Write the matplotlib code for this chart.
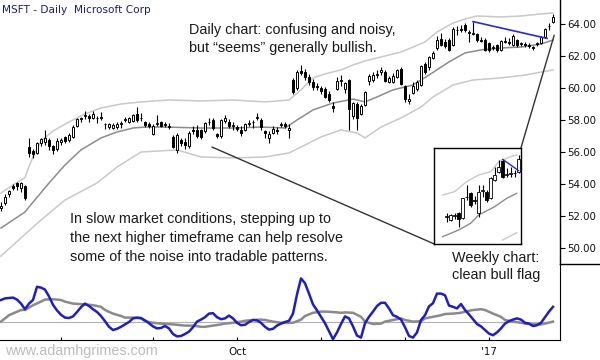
import numpy as np
import matplotlib
matplotlib.use('Agg')
import matplotlib.pyplot as plt
from matplotlib.lines import Line2D
from matplotlib.patches import ConnectionPatch

# ---------------- daily OHLC (MSFT, Jul 11 2016 - Jan 26 2017) ----------------
opens = [52.50, 52.80, 53.40, 53.85, 54.05, 53.75, 53.85, 56.30, 56.05, 55.95,
         56.55, 56.65, 56.75, 56.35, 56.20, 56.60, 56.95, 56.75, 56.95, 57.65,
         58.05, 58.25, 58.25, 58.15, 58.15, 58.15, 57.75, 57.55, 57.50, 57.55,
         57.75, 58.00, 57.90, 57.95, 58.40, 58.10, 57.85, 57.75, 57.15, 57.75,
         57.85, 57.70, 57.65, 56.95, 56.15, 56.75, 56.60, 56.40, 57.40, 57.40,
         57.35, 57.30, 57.90, 58.00, 57.10, 57.00, 57.95, 57.90, 57.60, 57.55,
         57.35, 57.35, 57.75, 57.90, 58.10, 58.00, 57.30, 56.85, 57.20, 57.40,
         57.70, 57.75, 57.40, 60.50, 60.00, 61.05, 61.00, 60.70, 60.40, 60.15,
         60.00, 59.95, 59.65, 58.85, 59.95, 60.45, 59.95, 60.50, 58.25, 59.00,
         58.40, 58.95, 60.45, 60.50, 60.80, 61.00, 61.00, 60.40, 60.40, 60.70,
         61.20, 60.15, 59.20, 59.70, 59.95, 60.20, 61.50, 61.30, 61.85, 62.50,
         63.05, 62.85, 63.00, 62.70, 63.60, 63.70, 63.95, 63.50, 63.40, 63.40,
         63.00, 63.00, 62.80, 62.50, 62.70, 62.40, 62.90, 62.85, 62.70, 63.00,
         62.75, 62.75, 62.70, 62.55, 62.75, 62.80, 63.20, 63.85, 64.15]
highs = [52.90, 53.40, 53.65, 54.00, 54.10, 54.15, 53.95, 56.90, 56.20, 56.65,
         56.90, 57.35, 56.85, 56.45, 56.85, 56.90, 57.00, 57.20, 57.70, 58.15,
         58.20, 58.55, 58.40, 58.55, 58.25, 58.50, 57.80, 57.80, 57.80, 57.85,
         57.95, 58.20, 58.20, 58.40, 58.80, 58.45, 57.95, 57.85, 57.75, 58.30,
         57.95, 57.90, 57.80, 57.05, 57.20, 56.90, 56.85, 57.30, 57.60, 57.70,
         57.45, 57.85, 58.10, 58.10, 57.20, 58.05, 58.30, 58.05, 57.90, 57.70,
         57.60, 57.80, 58.00, 58.00, 58.45, 58.10, 57.40, 57.30, 57.60, 57.55,
         57.90, 57.90, 57.75, 60.60, 61.15, 61.45, 61.20, 60.90, 60.55, 60.30,
         60.10, 60.05, 59.80, 59.15, 60.70, 60.80, 60.40, 60.55, 59.15, 59.10,
         59.00, 59.80, 60.90, 61.00, 61.10, 61.30, 61.10, 60.75, 60.95, 61.20,
         61.30, 60.20, 59.60, 60.40, 60.50, 61.45, 61.60, 62.00, 62.30, 63.25,
         63.45, 63.05, 63.10, 63.80, 63.85, 63.95, 64.04, 63.60, 64.15, 63.45,
         63.20, 63.10, 62.85, 62.70, 62.75, 63.00, 63.20, 63.10, 63.35, 63.05,
         62.90, 62.90, 62.80, 62.60, 62.90, 63.25, 63.75, 64.05, 64.60]
lows = [52.30, 52.70, 53.20, 53.60, 53.60, 53.50, 53.00, 55.70, 55.60, 55.85,
        56.35, 56.45, 56.10, 55.85, 56.05, 56.45, 56.55, 56.60, 56.85, 57.55,
        57.85, 58.05, 57.90, 58.05, 57.80, 58.00, 57.45, 57.45, 57.45, 57.45,
        57.50, 57.90, 57.80, 57.90, 57.85, 57.95, 57.55, 57.50, 57.05, 57.60,
        57.55, 57.55, 57.45, 56.25, 55.95, 56.35, 56.20, 56.25, 57.10, 56.90,
        56.80, 57.20, 57.70, 57.40, 56.85, 56.90, 57.80, 57.50, 57.40, 57.30,
        57.00, 57.30, 57.60, 57.50, 58.00, 57.40, 56.90, 56.55, 57.10, 57.15,
        57.55, 57.50, 56.90, 59.60, 59.90, 60.80, 60.50, 60.20, 59.90, 59.90,
        59.60, 59.35, 59.10, 58.50, 59.85, 60.10, 59.70, 57.40, 58.05, 57.35,
        58.30, 58.90, 60.20, 60.40, 60.60, 60.80, 60.35, 60.30, 60.30, 60.60,
        60.20, 59.10, 59.00, 59.60, 59.80, 60.10, 60.90, 61.10, 61.80, 62.40,
        62.60, 62.50, 62.30, 62.60, 63.30, 63.50, 63.50, 62.90, 63.30, 62.90,
        62.85, 62.30, 62.25, 62.35, 62.25, 62.30, 62.80, 62.70, 62.60, 62.55,
        62.65, 62.55, 62.50, 62.35, 62.60, 62.75, 63.15, 63.60, 64.05]
closes = [52.60, 53.20, 53.55, 53.75, 53.85, 54.05, 53.10, 55.95, 55.85, 56.55,
          56.80, 56.90, 56.35, 56.10, 56.70, 56.75, 56.70, 57.05, 57.55, 58.05,
          58.10, 58.30, 58.15, 58.40, 58.10, 58.20, 57.72, 57.72, 57.70, 57.75,
          57.80, 58.05, 58.15, 58.30, 58.00, 58.15, 57.70, 57.65, 57.65, 57.80,
          57.65, 57.75, 57.55, 56.30, 57.05, 56.55, 56.45, 57.20, 57.30, 57.00,
          56.95, 57.80, 57.85, 57.50, 57.00, 58.00, 58.10, 57.60, 57.70, 57.45,
          57.20, 57.75, 57.80, 57.85, 58.20, 57.55, 57.20, 57.10, 57.45, 57.30,
          57.75, 57.60, 57.50, 59.77, 61.00, 60.95, 60.70, 60.35, 60.05, 60.05,
          59.80, 59.45, 59.25, 58.75, 60.45, 60.50, 60.30, 58.70, 59.05, 58.15,
          58.90, 59.75, 60.75, 60.80, 60.90, 61.10, 60.45, 60.65, 60.75, 61.10,
          60.25, 59.30, 59.30, 60.15, 60.40, 61.40, 61.00, 61.95, 62.20, 63.00,
          62.70, 62.60, 62.40, 63.70, 63.65, 63.60, 63.65, 63.45, 63.45, 63.00,
          62.95, 62.40, 62.40, 62.55, 62.35, 62.95, 62.95, 62.80, 63.25, 62.70,
          62.80, 62.70, 62.65, 62.50, 62.80, 63.20, 63.70, 63.90, 64.45]

# Keltner-style channel (bar index, price)
upper_idx = [0, 3, 6, 7, 8, 10, 13, 17, 21, 25, 30, 35, 42, 50, 58, 66, 72, 75, 78, 81,
             85, 88, 91, 95, 100, 103, 106, 109, 113, 116, 119, 125, 130, 135, 138]
upper_val = [53.44, 53.94, 54.40, 55.10, 55.69, 56.69, 57.31, 57.88, 58.38, 58.75, 59.00,
             59.13, 59.25, 59.19, 59.25, 59.13, 59.25, 59.88, 60.63, 60.88, 61.13, 61.44,
             61.69, 61.94, 62.25, 62.56, 62.88, 63.50, 64.06, 64.31, 64.50, 64.44, 64.50,
             64.63, 64.69]
mid_idx = [0, 3, 6, 7, 12, 16, 20, 25, 29, 33, 36, 41, 50, 58, 65, 71, 74, 78, 83, 88,
           91, 94, 98, 103, 107, 112, 116, 120, 125, 130, 135, 138]
mid_val = [51.25, 51.75, 52.25, 52.56, 54.06, 55.19, 56.13, 56.88, 57.25, 57.50, 57.56,
           57.56, 57.50, 57.50, 57.56, 57.50, 58.00, 58.63, 59.06, 59.31, 59.13, 59.44,
           59.88, 60.19, 60.81, 61.63, 62.19, 62.38, 62.50, 62.56, 62.75, 63.00]
low_idx = [0, 5, 10, 16, 24, 29, 35, 44, 50, 58, 66, 72, 75, 80, 85, 89, 91, 95, 100,
           105, 108, 113, 118, 125, 131, 138]
low_val = [49.50, 50.63, 51.75, 53.00, 54.06, 55.06, 56.00, 56.13, 55.69, 55.63, 55.69,
           55.94, 56.31, 56.94, 57.38, 57.19, 56.88, 57.56, 58.13, 58.81, 59.44, 60.19,
           60.50, 60.63, 60.81, 61.13]

# flag trendline (bar index, price)
flag_idx = [118, 136.5]
flag_val = [64.15, 63.10]

# oscillator (lower panel)
fast_osc = [0.56, 0.60, 0.61, 0.62, 0.57, 0.47, 0.33, 0.47, 0.56, 0.89,
            0.87, 0.82, 0.65, 0.44, 0.30, 0.19, 0.12, 0.11, 0.15, 0.26,
            0.38, 0.47, 0.41, 0.33, 0.26, 0.16, 0.03, -0.11, -0.19, -0.16,
            -0.11, -0.05, 0.01, 0.10, 0.12, 0.11, 0.05, -0.02, -0.10, -0.15,
            -0.14, -0.09, -0.15, -0.29, -0.35, -0.34, -0.29, -0.23, -0.12, 0.02,
            0.07, 0.13, 0.22, 0.23, 0.13, 0.08, 0.10, 0.17, 0.10, -0.01,
            -0.07, -0.06, 0.01, 0.06, 0.05, -0.01, -0.11, -0.18, -0.16, -0.08,
            -0.03, 0.01, 0.04, 0.22, 0.70, 1.10, 0.98, 0.72, 0.45, 0.30,
            0.14, -0.02, -0.22, -0.42, -0.25, -0.04, 0.15, 0.10, -0.10, -0.33,
            -0.38, -0.02, 0.14, 0.27, 0.41, 0.49, 0.49, 0.35, 0.18, 0.14,
            0.07, -0.12, -0.34, -0.38, -0.25, 0.06, 0.18, 0.40, 0.48, 0.72,
            0.72, 0.68, 0.42, 0.39, 0.35, 0.46, 0.31, 0.20, 0.08, -0.04,
            -0.10, -0.19, -0.28, -0.32, -0.25, -0.15, -0.03, 0.03, 0.07, 0.10,
            0.07, -0.01, -0.03, -0.09, -0.07, -0.01, 0.13, 0.27, 0.39]
slow_idx = [0, 2, 5, 6, 8, 10, 11, 13, 15, 16, 18, 21, 23, 25, 26, 28, 30, 31, 33, 35,
            36, 38, 40, 41, 43, 45, 46, 48, 50, 51, 53, 55, 56, 58, 60, 61, 63, 65, 66,
            68, 70, 71, 73, 75, 76, 78, 80, 81, 83, 85, 86, 88, 90, 91, 93, 95, 96, 98,
            100, 101, 103, 105, 106, 108, 110, 111, 113, 115, 116, 118, 120, 121, 123,
            125, 126, 128, 130, 131, 133, 135, 136, 138]
slow_val = [0.02, 0.18, 0.31, 0.31, 0.43, 0.52, 0.57, 0.58, 0.56, 0.52, 0.47, 0.45, 0.43,
            0.39, 0.31, 0.22, 0.16, 0.12, 0.12, 0.10, 0.03, -0.01, -0.03, -0.04, -0.05,
            -0.07, -0.08, -0.08, -0.11, -0.11, -0.08, -0.05, -0.03, -0.01, 0.02, 0.04,
            0.06, 0.07, 0.06, 0.02, -0.01, -0.01, -0.01, 0.07, 0.16, 0.24, 0.27, 0.27,
            0.26, 0.24, 0.25, 0.24, 0.14, 0.02, -0.04, -0.03, 0.02, 0.06, 0.10, 0.06,
            0.02, 0.03, 0.10, 0.14, 0.18, 0.21, 0.22, 0.24, 0.27, 0.31, 0.33, 0.31, 0.22,
            0.14, 0.06, 0.02, -0.01, -0.03, -0.05, -0.05, -0.03, 0.02]

month_tick_idx = [15, 38, 59, 80, 101, 122]
month_tick_lbl = ['', '', 'Oct', '', '', "'17"]
price_ticks = [50, 52, 54, 56, 58, 60, 62, 64]

# ---------------- weekly inset ----------------
wk_open = [57.55, 57.17, 57.63, 57.94, 57.36, 59.77, 60.23, 59.47, 57.94, 60.54,
           60.43, 59.66, 61.77, 62.73, 64.00, 62.34, 62.46, 62.53, 62.73]
wk_high = [58.01, 57.86, 58.01, 58.09, 59.74, 61.19, 60.43, 59.93, 61.19, 61.19,
           60.62, 62.07, 63.30, 64.07, 64.14, 63.11, 63.30, 62.92, 64.64]
wk_low = [56.98, 57.09, 57.32, 56.40, 57.25, 59.47, 58.63, 59.01, 57.48, 59.85,
          59.28, 59.55, 61.69, 62.53, 62.04, 62.07, 62.15, 62.07, 62.61]
wk_close = [57.63, 57.74, 57.71, 57.32, 59.66, 59.85, 58.89, 59.39, 60.43, 60.62,
            59.47, 61.96, 62.34, 63.30, 62.15, 62.46, 62.53, 62.61, 64.14]
wk_up_idx = [-1, 2, 5, 8, 11, 13, 16, 17.5]
wk_up_val = [60.04, 60.43, 61.58, 62.34, 62.73, 63.87, 64.45, 64.64]
wk_mid_idx = [-1, 3, 6, 8, 12, 15, 17.5]
wk_mid_val = [55.25, 56.02, 56.79, 57.74, 58.70, 59.66, 60.23]
wk_low_idx = [14, 17.5]
wk_low_val = [54.87, 55.71]
wk_flag_idx = [14, 18]
wk_flag_val = [64.14, 62.84]

# ---------------- drawing ----------------
W, H = 600, 360
fig = plt.figure(figsize=(6, 3.6), dpi=100)
fig.patch.set_facecolor('white')

ax = fig.add_axes([0, 96 / H, 560 / W, 264 / H])
ax2 = fig.add_axes([0, 20 / H, 560 / W, 76 / H])

bars = np.arange(len(closes))
o = np.array(opens); hi = np.array(highs); lo = np.array(lows); c = np.array(closes)


def candles(a, x, o, h, l, c, width, lw_w, lw_e, z=3):
    up = c >= o
    a.vlines(x, l, h, color='black', lw=lw_w, zorder=z)
    blo = np.minimum(o, c)
    bh = np.maximum(np.abs(c - o), 0.035)
    a.bar(x, bh, bottom=blo, width=width,
          color=np.where(up, 'white', 'black'), edgecolor='black',
          linewidth=lw_e, zorder=z + 1)


light = '#c9c9c9'
midc = '#8c8c8c'
ax.plot(upper_idx, upper_val, color=light, lw=1.1, zorder=1)
ax.plot(low_idx, low_val, color=light, lw=1.1, zorder=1)
ax.plot(mid_idx, mid_val, color=midc, lw=1.1, zorder=1)
candles(ax, bars, o, hi, lo, c, 0.72, 0.8, 0.7)
ax.plot(flag_idx, flag_val, color='#2a2ad0', lw=1.2, zorder=6)

xlim = (-0.25, 139.75)
ax.set_xlim(*xlim)
ax.set_ylim(49.0, 65.5)
for s in ['top', 'left', 'bottom']:
    ax.spines[s].set_visible(False)
ax.spines['right'].set_linewidth(1.0)
ax.set_xticks([])
ax.yaxis.tick_right()
ax.set_yticks(price_ticks)
ax.set_yticklabels(['%.2f' % v for v in price_ticks])
ax.tick_params(axis='y', direction='out', length=3.5, width=0.8, pad=1.5,
               labelsize=7.4, labelcolor='#111111')
for t in ax.get_yticklabels():
    t.set_fontfamily('DejaVu Sans')
ax.patch.set_alpha(0)

# lower panel
ax2.hlines(0, bars[0], bars[-1], color='#b0b0b0', lw=0.8, zorder=1)
ax2.plot(slow_idx, slow_val, color='#8a8a8a', lw=1.8, zorder=2)
ax2.plot(bars, fast_osc, color='#1f1fc0', lw=1.8, zorder=3)
ax2.set_xlim(*xlim)
ax2.set_ylim(-0.44, 1.46)
ax2.spines['top'].set_visible(False)
ax2.spines['left'].set_visible(False)
ax2.set_yticks([])
ax2.set_xticks(month_tick_idx)
ax2.set_xticklabels(month_tick_lbl)
ax2.tick_params(axis='x', direction='in', length=2.5, width=0.8, pad=5,
                labelsize=7.4, labelcolor='#111111')
ax2.patch.set_alpha(0)

# separator line right of the axis
fig.add_artist(Line2D([560 / W, 1.0], [1 - 264 / H, 1 - 264 / H],
                      transform=fig.transFigure, color='black', lw=1.0))

# inset weekly chart
axi = fig.add_axes([434.3 / W, 1 - 244 / H, 86.7 / W, 96.3 / H])
wk = np.arange(len(wk_close))
axi.plot(wk_up_idx, wk_up_val, color=light, lw=1.0, zorder=1)
axi.plot(wk_mid_idx, wk_mid_val, color=midc, lw=1.0, zorder=1)
axi.plot(wk_low_idx, wk_low_val, color=light, lw=1.0, zorder=1)
candles(axi, wk, np.array(wk_open), np.array(wk_high), np.array(wk_low),
        np.array(wk_close), 0.6, 0.8, 0.6)
axi.plot(wk_flag_idx, wk_flag_val, color='#2a2ad0', lw=1.0, zorder=6)
axi.set_xlim(-3.08, 18.58)
axi.set_ylim(54.41, 65.48)
axi.set_xticks([]); axi.set_yticks([])
for s in axi.spines.values():
    s.set_linewidth(1.0)
axi.set_zorder(5)

# callout lines
con1 = ConnectionPatch(xyA=(52.75, 56.31), coordsA=ax.transData,
                       xyB=(0, 0), coordsB=axi.transAxes, color='#333333', lw=1.0)
con2 = ConnectionPatch(xyA=(1, 1), coordsA=axi.transAxes,
                       xyB=(138.3, 63.3), coordsB=ax.transData, color='#333333', lw=1.0)
fig.add_artist(con1)
fig.add_artist(con2)

# texts
sans = ['Liberation Sans', 'DejaVu Sans']


def ftext(x, y, s, **kw):
    fig.text(x / W, 1 - y / H, s, va='baseline', ha='left', **kw)


ftext(2, 12.8, 'MSFT - Daily  Microsoft Corp', fontsize=7.6, color='#1b1f70',
      family='DejaVu Sans')
ftext(189, 33.6, 'Daily chart: confusing and noisy,', fontsize=10.4, color='#1a1a1a', family=sans)
ftext(189, 52.0, 'but \u201cseems\u201d generally bullish.', fontsize=10.4, color='#1a1a1a', family=sans)
ftext(70, 223.3, 'In slow market conditions, stepping up to', fontsize=10.4, color='#1a1a1a', family=sans)
ftext(70, 242.3, 'the next higher timeframe can help resolve', fontsize=10.4, color='#1a1a1a', family=sans)
ftext(70, 261.3, 'some of the noise into tradable patterns.', fontsize=10.4, color='#1a1a1a', family=sans)
ftext(452, 262.0, 'Weekly chart:', fontsize=10.4, color='#1a1a1a', family=sans)
ftext(452, 278.6, 'clean bull flag', fontsize=10.4, color='#1a1a1a', family=sans)
ftext(5, 355.0, 'www.adamhgrimes.com', fontsize=10.4, color='#bdbdbd', family=sans)

fig.savefig('out.png', dpi=100, facecolor='white')
